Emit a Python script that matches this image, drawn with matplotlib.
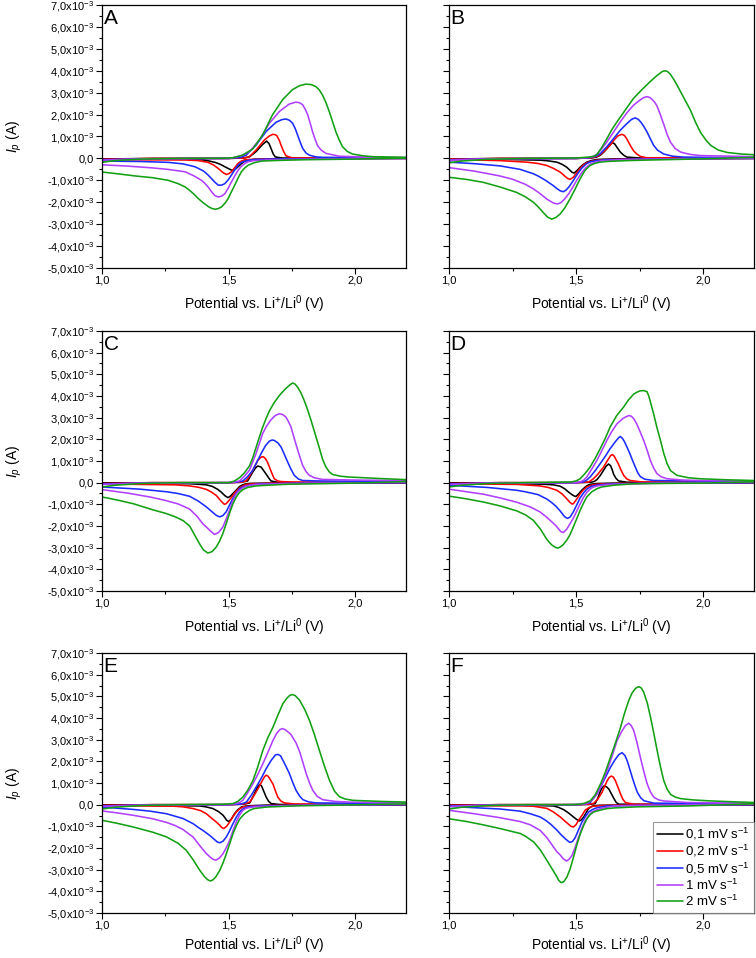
import matplotlib
matplotlib.use("Agg")
import matplotlib.pyplot as plt
from matplotlib.ticker import MultipleLocator, FixedLocator

plt.rcParams["font.family"] = ["Liberation Sans", "DejaVu Sans"]
plt.rcParams["mathtext.fontset"] = "custom"
plt.rcParams["mathtext.rm"] = "Liberation Sans"
plt.rcParams["mathtext.it"] = "Liberation Sans:italic"

# scan rates and colours
rates = ["0,1 mV s$^{-1}$", "0,2 mV s$^{-1}$", "0,5 mV s$^{-1}$", "1 mV s$^{-1}$", "2 mV s$^{-1}$"]
colors = ["#000000", "#ff0000", "#1a2cff", "#b040ff", "#13a013"]
panels = ["A", "B", "C", "D", "E", "F"]

# current in units of 1e-3 A as (potential V, current) pairs
# anodic sweep 1.0 -> 2.2, cathodic sweep 2.2 -> 1.0; order: 0.1, 0.2, 0.5, 1, 2 mV/s
A_anodic = [
    [(1.0,-0.03),(1.2,0.0),(1.5,0.0),(1.56,0.02),(1.582,0.07),(1.608,0.31),(1.634,0.64),(1.65,0.79),(1.659,0.68),(1.667,0.46),(1.676,0.2),(1.684,0.07),(1.713,0.01),(2.2,0.01)],
    [(1.0,-0.04),(1.2,0.0),(1.5,0.0),(1.56,0.02),(1.582,0.08),(1.608,0.38),(1.641,0.84),(1.66,1.02),(1.674,1.1),(1.684,1.08),(1.69,1.04),(1.7,0.82),(1.707,0.6),(1.716,0.34),(1.726,0.12),(1.752,0.02),(2.2,0.01)],
    [(1.0,-0.06),(1.15,-0.02),(1.5,0.0),(1.545,0.04),(1.569,0.15),(1.608,0.6),(1.647,1.22),(1.687,1.65),(1.71,1.77),(1.726,1.8),(1.74,1.74),(1.752,1.61),(1.762,1.38),(1.772,1.07),(1.782,0.75),(1.792,0.46),(1.805,0.25),(1.818,0.15),(1.845,0.07),(1.87,0.05),(2.2,0.02)],
    [(1.0,-0.08),(1.15,-0.02),(1.5,0.0),(1.516,0.03),(1.55,0.12),(1.582,0.31),(1.621,0.84),(1.661,1.61),(1.7,2.14),(1.739,2.48),(1.766,2.57),(1.78,2.54),(1.792,2.45),(1.802,2.25),(1.812,1.99),(1.822,1.6),(1.831,1.22),(1.841,0.88),(1.851,0.58),(1.865,0.38),(1.884,0.23),(1.936,0.1),(2.07,0.05),(2.2,0.04)],
    [(1.0,-0.18),(1.05,-0.1),(1.15,-0.03),(1.3,0.0),(1.48,0.01),(1.516,0.03),(1.555,0.15),(1.595,0.43),(1.634,1.07),(1.673,1.99),(1.713,2.68),(1.752,3.14),(1.78,3.32),(1.805,3.39),(1.825,3.37),(1.844,3.28),(1.858,3.12),(1.87,2.9),(1.884,2.55),(1.897,2.14),(1.91,1.68),(1.923,1.22),(1.936,0.85),(1.949,0.54),(1.968,0.32),(1.989,0.2),(2.03,0.12),(2.068,0.08),(2.2,0.05)],
]
A_cathodic = [
    [(2.2,0.0),(1.7,-0.01),(1.6,-0.04),(1.564,-0.12),(1.55,-0.24),(1.537,-0.38),(1.525,-0.5),(1.514,-0.55),(1.5,-0.47),(1.485,-0.38),(1.465,-0.26),(1.446,-0.18),(1.42,-0.11),(1.393,-0.06),(1.3,-0.04),(1.0,-0.02)],
    [(2.2,0.0),(1.7,-0.02),(1.6,-0.04),(1.564,-0.06),(1.55,-0.12),(1.537,-0.23),(1.524,-0.42),(1.511,-0.61),(1.5,-0.7),(1.491,-0.73),(1.478,-0.65),(1.459,-0.46),(1.44,-0.3),(1.419,-0.18),(1.38,-0.1),(1.328,-0.07),(1.0,-0.06)],
    [(2.2,0.0),(1.7,-0.02),(1.6,-0.05),(1.577,-0.09),(1.55,-0.18),(1.537,-0.31),(1.524,-0.52),(1.511,-0.76),(1.498,-0.98),(1.485,-1.15),(1.472,-1.22),(1.459,-1.22),(1.445,-1.08),(1.432,-0.92),(1.419,-0.76),(1.4,-0.57),(1.367,-0.38),(1.32,-0.25),(1.262,-0.18),(1.15,-0.14),(1.0,-0.12)],
    [(2.2,0.01),(1.8,-0.03),(1.65,-0.07),(1.6,-0.1),(1.577,-0.15),(1.564,-0.23),(1.55,-0.36),(1.537,-0.54),(1.524,-0.8),(1.511,-1.07),(1.498,-1.36),(1.485,-1.61),(1.472,-1.72),(1.459,-1.76),(1.446,-1.7),(1.433,-1.53),(1.42,-1.32),(1.407,-1.15),(1.393,-1.0),(1.36,-0.78),(1.328,-0.61),(1.26,-0.5),(1.197,-0.43),(1.1,-0.35),(1.0,-0.29)],
    [(2.2,0.02),(2.0,-0.03),(1.8,-0.06),(1.7,-0.09),(1.63,-0.12),(1.6,-0.2),(1.577,-0.31),(1.563,-0.44),(1.55,-0.61),(1.537,-0.9),(1.524,-1.22),(1.511,-1.52),(1.498,-1.83),(1.485,-2.05),(1.472,-2.21),(1.459,-2.29),(1.446,-2.32),(1.433,-2.28),(1.42,-2.2),(1.4,-2.03),(1.38,-1.83),(1.36,-1.6),(1.345,-1.45),(1.328,-1.3),(1.3,-1.15),(1.262,-1.0),(1.2,-0.88),(1.131,-0.8),(1.06,-0.7),(1.0,-0.62)],
]

B_anodic = [
    [(1.0,-0.03),(1.2,0.0),(1.5,0.0),(1.56,0.02),(1.58,0.06),(1.595,0.14),(1.61,0.3),(1.621,0.44),(1.633,0.62),(1.643,0.72),(1.652,0.66),(1.66,0.52),(1.674,0.29),(1.688,0.14),(1.7,0.06),(1.75,0.02),(2.2,0.01)],
    [(1.0,-0.04),(1.2,0.0),(1.5,0.0),(1.56,0.03),(1.58,0.08),(1.595,0.17),(1.615,0.38),(1.634,0.6),(1.65,0.85),(1.665,1.03),(1.68,1.1),(1.69,1.05),(1.7,0.88),(1.713,0.6),(1.726,0.35),(1.739,0.2),(1.755,0.08),(1.779,0.03),(2.2,0.01)],
    [(1.0,-0.06),(1.15,-0.02),(1.5,0.0),(1.55,0.03),(1.575,0.09),(1.595,0.21),(1.62,0.52),(1.647,0.9),(1.675,1.3),(1.7,1.59),(1.718,1.78),(1.733,1.85),(1.745,1.78),(1.755,1.65),(1.767,1.45),(1.779,1.21),(1.792,0.9),(1.805,0.6),(1.82,0.38),(1.845,0.2),(1.88,0.1),(1.924,0.06),(2.2,0.03)],
    [(1.0,-0.08),(1.15,-0.02),(1.5,0.0),(1.55,0.04),(1.57,0.1),(1.585,0.22),(1.6,0.42),(1.621,0.75),(1.65,1.25),(1.674,1.67),(1.7,2.08),(1.726,2.43),(1.75,2.65),(1.765,2.77),(1.779,2.82),(1.79,2.78),(1.8,2.68),(1.81,2.55),(1.818,2.4),(1.83,2.05),(1.845,1.55),(1.858,1.1),(1.871,0.75),(1.89,0.45),(1.911,0.29),(1.95,0.18),(1.99,0.13),(2.2,0.08)],
    [(1.0,-0.2),(1.05,-0.12),(1.15,-0.04),(1.3,0.0),(1.5,0.02),(1.55,0.06),(1.57,0.1),(1.582,0.18),(1.6,0.48),(1.621,0.9),(1.64,1.3),(1.661,1.67),(1.69,2.15),(1.726,2.74),(1.76,3.15),(1.792,3.51),(1.82,3.8),(1.84,3.97),(1.85,4.0),(1.86,3.96),(1.87,3.85),(1.883,3.63),(1.897,3.35),(1.92,2.85),(1.95,2.2),(1.97,1.65),(1.989,1.2),(2.01,0.85),(2.029,0.6),(2.06,0.38),(2.095,0.27),(2.15,0.2),(2.2,0.17)],
]
B_cathodic = [
    [(2.2,0.0),(1.65,-0.02),(1.58,-0.05),(1.56,-0.1),(1.542,-0.17),(1.528,-0.28),(1.516,-0.4),(1.503,-0.56),(1.492,-0.67),(1.484,-0.63),(1.475,-0.53),(1.463,-0.4),(1.445,-0.27),(1.424,-0.17),(1.39,-0.11),(1.358,-0.08),(1.2,-0.04),(1.0,-0.03)],
    [(2.2,0.0),(1.7,-0.03),(1.6,-0.06),(1.57,-0.1),(1.555,-0.15),(1.542,-0.2),(1.529,-0.3),(1.516,-0.45),(1.503,-0.65),(1.49,-0.85),(1.476,-0.96),(1.465,-0.9),(1.455,-0.8),(1.437,-0.62),(1.41,-0.45),(1.384,-0.32),(1.35,-0.23),(1.305,-0.17),(1.2,-0.1),(1.0,-0.05)],
    [(2.2,0.0),(1.75,-0.03),(1.62,-0.06),(1.58,-0.1),(1.555,-0.16),(1.54,-0.25),(1.522,-0.45),(1.505,-0.72),(1.489,-1.01),(1.472,-1.3),(1.46,-1.45),(1.45,-1.52),(1.438,-1.48),(1.425,-1.38),(1.41,-1.24),(1.38,-1.0),(1.35,-0.8),(1.332,-0.7),(1.28,-0.5),(1.2,-0.34),(1.1,-0.24),(1.0,-0.17)],
    [(2.2,0.02),(1.8,-0.03),(1.65,-0.07),(1.6,-0.11),(1.575,-0.17),(1.555,-0.27),(1.538,-0.42),(1.522,-0.65),(1.505,-0.95),(1.489,-1.27),(1.472,-1.6),(1.455,-1.85),(1.44,-2.02),(1.426,-2.08),(1.412,-2.04),(1.398,-1.95),(1.384,-1.85),(1.36,-1.62),(1.332,-1.39),(1.3,-1.18),(1.25,-0.95),(1.2,-0.8),(1.1,-0.58),(1.0,-0.42)],
    [(2.2,0.05),(2.0,-0.02),(1.8,-0.07),(1.7,-0.1),(1.62,-0.14),(1.595,-0.17),(1.575,-0.22),(1.555,-0.32),(1.535,-0.55),(1.516,-0.93),(1.496,-1.4),(1.476,-1.85),(1.456,-2.25),(1.437,-2.54),(1.42,-2.7),(1.404,-2.77),(1.388,-2.68),(1.371,-2.47),(1.35,-2.2),(1.332,-2.0),(1.3,-1.75),(1.266,-1.55),(1.2,-1.3),(1.134,-1.09),(1.07,-0.96),(1.0,-0.86)],
]

C_anodic = [
    [(1.0,-0.03),(1.2,0.0),(1.5,0.0),(1.55,0.02),(1.575,0.08),(1.595,0.49),(1.606,0.68),(1.615,0.77),(1.628,0.72),(1.647,0.41),(1.658,0.22),(1.667,0.08),(1.7,0.0),(2.2,0.01)],
    [(1.0,-0.04),(1.2,0.0),(1.5,0.0),(1.55,0.02),(1.569,0.08),(1.582,0.3),(1.595,0.57),(1.615,1.03),(1.628,1.18),(1.637,1.2),(1.645,1.11),(1.653,0.95),(1.661,0.72),(1.67,0.45),(1.68,0.18),(1.694,0.08),(1.707,0.05),(1.75,0.03),(2.2,0.02)],
    [(1.0,-0.06),(1.15,-0.02),(1.5,0.0),(1.53,0.02),(1.556,0.08),(1.575,0.28),(1.595,0.57),(1.628,1.34),(1.645,1.7),(1.661,1.92),(1.672,1.97),(1.68,1.95),(1.695,1.83),(1.707,1.64),(1.72,1.3),(1.733,0.95),(1.746,0.62),(1.759,0.34),(1.775,0.17),(1.792,0.1),(1.85,0.08),(2.2,0.05)],
    [(1.0,-0.08),(1.15,-0.02),(1.5,0.0),(1.52,0.02),(1.543,0.08),(1.562,0.3),(1.582,0.57),(1.608,1.34),(1.634,2.26),(1.65,2.62),(1.667,2.9),(1.684,3.1),(1.7,3.18),(1.714,3.14),(1.726,3.03),(1.736,2.82),(1.746,2.57),(1.755,2.2),(1.765,1.8),(1.778,1.3),(1.792,0.8),(1.805,0.52),(1.818,0.34),(1.84,0.22),(1.87,0.15),(2.0,0.12),(2.2,0.1)],
    [(1.0,-0.2),(1.05,-0.12),(1.15,-0.04),(1.3,0.0),(1.503,0.0),(1.523,0.08),(1.543,0.23),(1.562,0.45),(1.582,0.77),(1.595,1.15),(1.608,1.62),(1.621,2.1),(1.634,2.55),(1.648,2.97),(1.661,3.32),(1.68,3.7),(1.7,4.02),(1.72,4.28),(1.739,4.49),(1.752,4.6),(1.762,4.55),(1.772,4.41),(1.785,4.15),(1.798,3.8),(1.812,3.35),(1.825,2.88),(1.84,2.3),(1.857,1.64),(1.87,1.1),(1.884,0.72),(1.897,0.5),(1.91,0.38),(1.94,0.3),(1.975,0.26),(2.1,0.19),(2.2,0.14)],
]
C_cathodic = [
    [(2.2,0.0),(1.65,-0.02),(1.59,-0.03),(1.569,-0.05),(1.556,-0.1),(1.543,-0.18),(1.53,-0.34),(1.516,-0.51),(1.506,-0.63),(1.497,-0.69),(1.485,-0.6),(1.472,-0.45),(1.457,-0.31),(1.435,-0.17),(1.412,-0.1),(1.35,-0.05),(1.0,-0.03)],
    [(2.2,0.0),(1.7,-0.02),(1.6,-0.05),(1.569,-0.08),(1.556,-0.15),(1.543,-0.25),(1.53,-0.38),(1.516,-0.6),(1.503,-0.8),(1.49,-0.97),(1.483,-1.0),(1.47,-0.85),(1.451,-0.59),(1.43,-0.42),(1.412,-0.31),(1.38,-0.21),(1.346,-0.15),(1.29,-0.1),(1.0,-0.06)],
    [(2.2,0.0),(1.75,-0.03),(1.62,-0.06),(1.582,-0.12),(1.56,-0.18),(1.543,-0.28),(1.53,-0.48),(1.516,-0.74),(1.503,-1.04),(1.49,-1.35),(1.477,-1.52),(1.464,-1.58),(1.45,-1.5),(1.43,-1.3),(1.412,-1.12),(1.38,-0.85),(1.346,-0.63),(1.3,-0.5),(1.255,-0.42),(1.15,-0.3),(1.0,-0.2)],
    [(2.2,0.02),(1.8,-0.03),(1.65,-0.06),(1.608,-0.08),(1.58,-0.13),(1.556,-0.23),(1.543,-0.35),(1.53,-0.51),(1.516,-0.85),(1.503,-1.28),(1.49,-1.68),(1.477,-2.05),(1.46,-2.3),(1.444,-2.39),(1.43,-2.25),(1.415,-2.08),(1.398,-1.9),(1.375,-1.55),(1.346,-1.22),(1.3,-0.98),(1.25,-0.82),(1.189,-0.66),(1.1,-0.48),(1.0,-0.32)],
    [(2.2,0.05),(2.0,-0.02),(1.8,-0.06),(1.739,-0.07),(1.65,-0.12),(1.608,-0.15),(1.575,-0.22),(1.556,-0.32),(1.543,-0.45),(1.53,-0.66),(1.516,-1.0),(1.503,-1.43),(1.49,-1.9),(1.477,-2.35),(1.464,-2.7),(1.451,-2.97),(1.435,-3.18),(1.418,-3.25),(1.4,-3.1),(1.385,-2.82),(1.365,-2.4),(1.346,-2.0),(1.32,-1.75),(1.29,-1.58),(1.255,-1.43),(1.2,-1.25),(1.123,-0.97),(1.06,-0.8),(1.0,-0.66)],
]

D_anodic = [
    [(1.0,-0.03),(1.2,0.0),(1.5,0.0),(1.56,0.02),(1.572,0.06),(1.582,0.14),(1.595,0.33),(1.608,0.57),(1.618,0.76),(1.628,0.86),(1.636,0.78),(1.642,0.6),(1.648,0.38),(1.657,0.2),(1.667,0.08),(1.7,0.02),(2.2,0.01)],
    [(1.0,-0.04),(1.2,0.0),(1.5,0.0),(1.55,0.03),(1.568,0.18),(1.585,0.38),(1.608,0.72),(1.625,1.05),(1.636,1.25),(1.643,1.3),(1.65,1.22),(1.658,1.05),(1.667,0.85),(1.677,0.58),(1.687,0.34),(1.7,0.17),(1.713,0.1),(1.76,0.03),(2.2,0.02)],
    [(1.0,-0.06),(1.15,-0.02),(1.5,0.0),(1.53,0.04),(1.542,0.12),(1.555,0.26),(1.575,0.55),(1.595,0.88),(1.615,1.22),(1.634,1.57),(1.655,1.9),(1.668,2.08),(1.674,2.13),(1.682,2.05),(1.69,1.9),(1.7,1.65),(1.713,1.3),(1.723,1.0),(1.733,0.72),(1.743,0.45),(1.753,0.28),(1.77,0.16),(1.805,0.1),(2.2,0.05)],
    [(1.0,-0.08),(1.15,-0.02),(1.5,0.0),(1.52,0.05),(1.53,0.12),(1.542,0.26),(1.56,0.6),(1.582,1.03),(1.6,1.45),(1.621,1.95),(1.64,2.35),(1.661,2.72),(1.685,2.97),(1.7,3.06),(1.709,3.1),(1.718,3.06),(1.727,2.95),(1.739,2.7),(1.752,2.35),(1.766,1.95),(1.78,1.48),(1.792,1.03),(1.805,0.68),(1.818,0.42),(1.835,0.27),(1.858,0.18),(1.92,0.12),(1.989,0.1),(2.2,0.08)],
    [(1.0,-0.2),(1.05,-0.12),(1.15,-0.04),(1.3,0.0),(1.48,0.03),(1.5,0.08),(1.516,0.18),(1.535,0.42),(1.555,0.72),(1.575,1.12),(1.595,1.57),(1.615,2.05),(1.634,2.57),(1.66,3.1),(1.687,3.49),(1.705,3.8),(1.726,4.08),(1.74,4.18),(1.753,4.24),(1.766,4.25),(1.779,4.2),(1.786,4.0),(1.793,3.7),(1.805,3.18),(1.818,2.55),(1.832,1.95),(1.845,1.35),(1.858,0.88),(1.872,0.55),(1.897,0.34),(1.94,0.23),(1.989,0.18),(2.1,0.13),(2.2,0.1)],
]
D_cathodic = [
    [(2.2,0.0),(1.65,-0.02),(1.58,-0.04),(1.56,-0.07),(1.549,-0.1),(1.536,-0.2),(1.522,-0.35),(1.51,-0.52),(1.499,-0.64),(1.49,-0.6),(1.48,-0.52),(1.47,-0.43),(1.455,-0.28),(1.437,-0.16),(1.41,-0.1),(1.371,-0.07),(1.2,-0.04),(1.0,-0.03)],
    [(2.2,0.0),(1.7,-0.03),(1.6,-0.06),(1.57,-0.09),(1.555,-0.14),(1.542,-0.2),(1.529,-0.33),(1.516,-0.51),(1.502,-0.77),(1.49,-0.96),(1.485,-0.99),(1.475,-0.9),(1.463,-0.74),(1.445,-0.52),(1.424,-0.35),(1.39,-0.22),(1.358,-0.15),(1.266,-0.08),(1.0,-0.05)],
    [(2.2,0.0),(1.75,-0.03),(1.62,-0.07),(1.58,-0.12),(1.56,-0.17),(1.542,-0.3),(1.529,-0.48),(1.516,-0.7),(1.503,-1.02),(1.489,-1.35),(1.477,-1.58),(1.467,-1.65),(1.458,-1.6),(1.45,-1.5),(1.437,-1.3),(1.42,-1.08),(1.4,-0.88),(1.384,-0.75),(1.35,-0.55),(1.3,-0.42),(1.266,-0.35),(1.15,-0.22),(1.0,-0.12)],
    [(2.2,0.02),(1.8,-0.03),(1.65,-0.07),(1.6,-0.12),(1.58,-0.16),(1.565,-0.22),(1.555,-0.3),(1.542,-0.45),(1.529,-0.68),(1.516,-0.98),(1.503,-1.3),(1.49,-1.62),(1.476,-1.9),(1.463,-2.15),(1.45,-2.3),(1.44,-2.26),(1.43,-2.12),(1.42,-1.98),(1.411,-1.88),(1.385,-1.6),(1.358,-1.35),(1.32,-1.12),(1.266,-0.9),(1.2,-0.7),(1.134,-0.53),(1.0,-0.3)],
    [(2.2,0.04),(2.0,-0.02),(1.8,-0.04),(1.726,-0.05),(1.647,-0.12),(1.6,-0.2),(1.582,-0.28),(1.562,-0.42),(1.542,-0.66),(1.529,-0.95),(1.516,-1.28),(1.503,-1.65),(1.489,-2.05),(1.476,-2.4),(1.463,-2.66),(1.448,-2.88),(1.436,-2.98),(1.428,-3.02),(1.418,-2.98),(1.405,-2.88),(1.395,-2.76),(1.384,-2.6),(1.36,-2.15),(1.332,-1.74),(1.3,-1.48),(1.266,-1.3),(1.2,-1.07),(1.134,-0.89),(1.07,-0.75),(1.0,-0.62)],
]

E_anodic = [
    [(1.0,-0.03),(1.2,0.0),(1.5,0.0),(1.56,0.02),(1.583,0.08),(1.592,0.28),(1.602,0.51),(1.612,0.78),(1.622,0.93),(1.629,0.88),(1.635,0.72),(1.642,0.52),(1.648,0.35),(1.658,0.15),(1.668,0.05),(1.7,0.01),(2.2,0.01)],
    [(1.0,-0.04),(1.2,0.0),(1.5,0.0),(1.56,0.03),(1.583,0.12),(1.6,0.42),(1.616,0.74),(1.63,1.05),(1.642,1.3),(1.648,1.36),(1.655,1.32),(1.662,1.2),(1.675,0.95),(1.685,0.62),(1.694,0.35),(1.705,0.18),(1.72,0.08),(1.76,0.03),(2.2,0.02)],
    [(1.0,-0.06),(1.15,-0.02),(1.5,0.0),(1.55,0.03),(1.57,0.12),(1.59,0.45),(1.609,0.82),(1.63,1.25),(1.648,1.66),(1.668,2.05),(1.685,2.3),(1.695,2.32),(1.705,2.25),(1.714,2.05),(1.727,1.75),(1.74,1.43),(1.753,1.02),(1.766,0.66),(1.78,0.4),(1.793,0.23),(1.815,0.13),(1.845,0.08),(2.2,0.05)],
    [(1.0,-0.08),(1.15,-0.02),(1.5,0.0),(1.53,0.05),(1.543,0.1),(1.556,0.2),(1.575,0.55),(1.596,0.97),(1.615,1.4),(1.635,1.89),(1.655,2.42),(1.675,2.97),(1.69,3.3),(1.703,3.47),(1.712,3.51),(1.722,3.47),(1.735,3.35),(1.745,3.25),(1.753,3.1),(1.766,2.85),(1.78,2.45),(1.793,1.95),(1.806,1.43),(1.82,0.98),(1.832,0.66),(1.85,0.38),(1.871,0.23),(1.92,0.15),(1.976,0.12),(2.2,0.08)],
    [(1.0,-0.2),(1.05,-0.12),(1.15,-0.04),(1.3,0.0),(1.48,0.02),(1.517,0.05),(1.536,0.15),(1.556,0.35),(1.576,0.68),(1.596,1.12),(1.615,1.75),(1.635,2.51),(1.655,3.1),(1.675,3.58),(1.695,4.15),(1.714,4.66),(1.73,4.92),(1.742,5.05),(1.751,5.08),(1.762,5.04),(1.78,4.82),(1.8,4.4),(1.819,3.89),(1.838,3.25),(1.858,2.51),(1.878,1.78),(1.898,1.12),(1.918,0.62),(1.937,0.37),(1.96,0.26),(1.99,0.2),(2.1,0.15),(2.2,0.12)],
]
E_cathodic = [
    [(2.2,0.0),(1.65,-0.02),(1.58,-0.05),(1.56,-0.08),(1.55,-0.11),(1.536,-0.24),(1.523,-0.42),(1.512,-0.64),(1.501,-0.78),(1.492,-0.72),(1.485,-0.6),(1.478,-0.49),(1.46,-0.32),(1.438,-0.18),(1.41,-0.1),(1.386,-0.06),(1.2,-0.04),(1.0,-0.03)],
    [(2.2,0.0),(1.7,-0.03),(1.6,-0.06),(1.57,-0.08),(1.556,-0.11),(1.543,-0.2),(1.53,-0.34),(1.517,-0.55),(1.504,-0.8),(1.492,-1.0),(1.481,-1.1),(1.472,-1.05),(1.465,-0.95),(1.451,-0.8),(1.43,-0.6),(1.412,-0.42),(1.39,-0.28),(1.36,-0.18),(1.32,-0.1),(1.281,-0.07),(1.0,-0.04)],
    [(2.2,0.0),(1.75,-0.03),(1.62,-0.06),(1.585,-0.09),(1.57,-0.12),(1.556,-0.2),(1.543,-0.34),(1.53,-0.58),(1.517,-0.88),(1.504,-1.2),(1.491,-1.49),(1.478,-1.68),(1.465,-1.76),(1.455,-1.72),(1.445,-1.62),(1.425,-1.42),(1.4,-1.2),(1.38,-1.05),(1.36,-0.88),(1.32,-0.64),(1.255,-0.42),(1.19,-0.3),(1.123,-0.22),(1.0,-0.11)],
    [(2.2,0.02),(1.8,-0.03),(1.65,-0.07),(1.6,-0.1),(1.58,-0.14),(1.567,-0.18),(1.556,-0.26),(1.543,-0.48),(1.53,-0.8),(1.517,-1.2),(1.504,-1.65),(1.49,-2.0),(1.478,-2.26),(1.463,-2.47),(1.449,-2.56),(1.438,-2.52),(1.43,-2.45),(1.412,-2.26),(1.39,-1.95),(1.36,-1.5),(1.32,-1.15),(1.29,-0.97),(1.255,-0.82),(1.2,-0.65),(1.123,-0.49),(1.06,-0.38),(1.0,-0.29)],
    [(2.2,0.04),(1.9,-0.03),(1.78,-0.05),(1.648,-0.11),(1.6,-0.18),(1.583,-0.26),(1.565,-0.4),(1.556,-0.5),(1.543,-0.68),(1.53,-0.98),(1.517,-1.34),(1.504,-1.8),(1.491,-2.26),(1.478,-2.68),(1.465,-3.03),(1.45,-3.32),(1.438,-3.47),(1.428,-3.52),(1.418,-3.47),(1.405,-3.33),(1.386,-3.03),(1.36,-2.55),(1.333,-2.11),(1.3,-1.78),(1.255,-1.49),(1.2,-1.27),(1.123,-1.03),(1.06,-0.86),(1.0,-0.72)],
]

F_anodic = [
    [(1.0,-0.03),(1.2,0.0),(1.5,0.0),(1.55,0.01),(1.575,0.05),(1.585,0.28),(1.596,0.64),(1.604,0.8),(1.611,0.87),(1.62,0.82),(1.629,0.72),(1.638,0.52),(1.648,0.3),(1.658,0.1),(1.668,0.02),(2.2,0.01)],
    [(1.0,-0.04),(1.2,0.0),(1.5,0.0),(1.55,0.02),(1.569,0.06),(1.585,0.25),(1.602,0.57),(1.622,1.1),(1.63,1.25),(1.638,1.32),(1.646,1.28),(1.655,1.1),(1.665,0.8),(1.675,0.49),(1.684,0.25),(1.694,0.1),(1.727,0.02),(2.2,0.02)],
    [(1.0,-0.06),(1.15,-0.02),(1.5,0.0),(1.53,0.02),(1.556,0.1),(1.575,0.4),(1.596,0.8),(1.615,1.25),(1.635,1.72),(1.652,2.05),(1.668,2.31),(1.681,2.4),(1.692,2.27),(1.701,2.03),(1.711,1.65),(1.721,1.26),(1.731,0.9),(1.741,0.57),(1.754,0.32),(1.767,0.18),(1.806,0.07),(2.2,0.05)],
    [(1.0,-0.08),(1.15,-0.02),(1.5,0.0),(1.52,0.01),(1.543,0.05),(1.562,0.2),(1.583,0.49),(1.602,0.98),(1.622,1.57),(1.642,2.25),(1.661,2.95),(1.678,3.35),(1.694,3.65),(1.707,3.76),(1.717,3.65),(1.727,3.42),(1.74,2.85),(1.753,2.18),(1.766,1.55),(1.78,0.95),(1.793,0.58),(1.806,0.34),(1.825,0.22),(1.845,0.17),(1.937,0.1),(2.2,0.06)],
    [(1.0,-0.2),(1.05,-0.12),(1.15,-0.04),(1.3,0.0),(1.48,0.0),(1.517,0.02),(1.536,0.08),(1.556,0.18),(1.575,0.45),(1.596,0.95),(1.615,1.5),(1.635,2.18),(1.655,2.85),(1.675,3.57),(1.69,4.2),(1.707,4.8),(1.72,5.15),(1.734,5.37),(1.747,5.45),(1.757,5.38),(1.766,5.19),(1.78,4.7),(1.793,4.03),(1.806,3.28),(1.819,2.49),(1.832,1.75),(1.845,1.11),(1.858,0.72),(1.872,0.47),(1.89,0.35),(1.911,0.28),(1.96,0.22),(2.017,0.18),(2.1,0.14),(2.2,0.1)],
]
F_cathodic = [
    [(2.2,0.0),(1.65,-0.02),(1.59,-0.03),(1.569,-0.05),(1.559,-0.1),(1.549,-0.18),(1.54,-0.36),(1.53,-0.57),(1.521,-0.7),(1.513,-0.75),(1.502,-0.68),(1.49,-0.57),(1.47,-0.38),(1.451,-0.23),(1.43,-0.12),(1.411,-0.06),(1.35,-0.04),(1.0,-0.03)],
    [(2.2,0.0),(1.7,-0.02),(1.6,-0.04),(1.562,-0.08),(1.549,-0.15),(1.536,-0.25),(1.523,-0.5),(1.51,-0.72),(1.5,-0.92),(1.49,-1.03),(1.48,-1.0),(1.471,-0.91),(1.455,-0.75),(1.438,-0.57),(1.41,-0.33),(1.385,-0.17),(1.33,-0.07),(1.28,-0.05),(1.0,-0.04)],
    [(2.2,0.0),(1.75,-0.03),(1.62,-0.06),(1.582,-0.14),(1.565,-0.22),(1.549,-0.34),(1.536,-0.55),(1.523,-0.8),(1.51,-1.15),(1.497,-1.51),(1.486,-1.7),(1.475,-1.74),(1.46,-1.6),(1.442,-1.4),(1.425,-1.18),(1.4,-0.9),(1.38,-0.72),(1.359,-0.57),(1.32,-0.42),(1.28,-0.3),(1.2,-0.2),(1.1,-0.14),(1.0,-0.08)],
    [(2.2,0.02),(1.8,-0.03),(1.65,-0.06),(1.607,-0.15),(1.585,-0.22),(1.562,-0.34),(1.549,-0.5),(1.536,-0.72),(1.523,-1.08),(1.51,-1.49),(1.497,-1.95),(1.484,-2.34),(1.473,-2.52),(1.462,-2.6),(1.45,-2.5),(1.436,-2.3),(1.425,-2.18),(1.411,-1.95),(1.385,-1.52),(1.359,-1.19),(1.32,-0.93),(1.28,-0.78),(1.2,-0.6),(1.1,-0.42),(1.0,-0.26)],
    [(2.2,0.04),(1.937,-0.06),(1.74,-0.1),(1.65,-0.15),(1.622,-0.18),(1.595,-0.25),(1.569,-0.34),(1.556,-0.45),(1.543,-0.65),(1.53,-0.95),(1.517,-1.34),(1.503,-1.85),(1.49,-2.42),(1.477,-2.95),(1.464,-3.34),(1.452,-3.55),(1.442,-3.6),(1.432,-3.5),(1.425,-3.34),(1.405,-2.95),(1.385,-2.57),(1.36,-2.1),(1.333,-1.72),(1.3,-1.45),(1.28,-1.33),(1.2,-1.1),(1.134,-0.93),(1.07,-0.78),(1.0,-0.65)],
]

anodic = [A_anodic, B_anodic, C_anodic, D_anodic, E_anodic, F_anodic]
cathodic = [A_cathodic, B_cathodic, C_cathodic, D_cathodic, E_cathodic, F_cathodic]

y_ticks = list(range(-5, 8))
x_ticks = [1.0, 1.5, 2.0]


def y_label(v):
    if v == 0:
        return "0,0"
    return f"{v:.1f}".replace(".", ",") + r"x10$^{-3}$"


fig = plt.figure(figsize=(7.56, 9.58), dpi=100)

# axes boxes in pixels: left, top, right, bottom
boxes = [
    (102, 5, 406, 268), (449, 5, 754, 268),
    (102, 331, 406, 591), (449, 331, 754, 591),
    (102, 653, 406, 913), (449, 653, 754, 913),
]
W, H = 756, 958

for i, name in enumerate(panels):
    l, t, r, b = boxes[i]
    ax = fig.add_axes([l / W, 1 - b / H, (r - l) / W, (b - t) / H])
    for k in range(5):
        pts = anodic[i][k] + cathodic[i][k]
        xs = [p[0] for p in pts]
        ys = [p[1] for p in pts]
        ax.plot(xs, ys, color=colors[k], lw=1.15, label=rates[k],
                solid_joinstyle="round", solid_capstyle="round")

    ax.set_xlim(1.0, 2.2)
    ax.set_ylim(-5, 7)
    ax.xaxis.set_major_locator(FixedLocator(x_ticks))
    ax.xaxis.set_minor_locator(MultipleLocator(0.25))
    ax.yaxis.set_major_locator(FixedLocator(y_ticks))
    ax.yaxis.set_minor_locator(MultipleLocator(0.5))
    ax.tick_params(which="both", direction="out", top=False, right=False, width=0.8)
    ax.tick_params(which="major", length=4, labelsize=8, pad=1.5)
    ax.tick_params(which="minor", length=2.5)
    ax.set_xticklabels([f"{v:.1f}".replace(".", ",") for v in x_ticks])
    if i % 2 == 0:
        ax.set_yticklabels([y_label(v) for v in y_ticks])
        ax.set_ylabel(r"$I_p$ (A)", fontsize=10)
        ax.yaxis.set_label_coords(-0.255, 0.5)
    else:
        ax.set_yticklabels([])
    ax.set_xlabel(r"Potential vs. Li$^{+}$/Li$^{0}$ (V)", fontsize=10)
    # bottom row sits close to the figure edge
    ax.xaxis.set_label_coords(0.5, -0.098 if i < 4 else -0.082)
    for s in ax.spines.values():
        s.set_linewidth(0.9)
    ax.text(0.005, 0.985, name, transform=ax.transAxes, fontsize=15, va="top", ha="left")

    if name == "F":
        leg = ax.legend(loc="lower right", fontsize=9.5, frameon=True, fancybox=False,
                        borderaxespad=0.0, handlelength=2.0, handletextpad=0.15,
                        labelspacing=0.08, borderpad=0.3)
        leg.get_frame().set_edgecolor("#808080")
        leg.get_frame().set_linewidth(0.8)

fig.savefig("out.png", dpi=100)
